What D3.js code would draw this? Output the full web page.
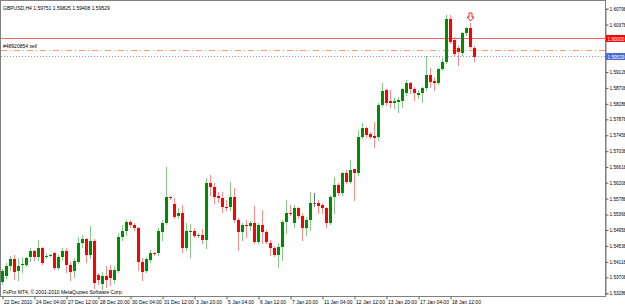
<!DOCTYPE html>
<html><head><meta charset="utf-8">
<script src="https://cdnjs.cloudflare.com/ajax/libs/d3/7.8.5/d3.min.js"></script>
<style>html,body{margin:0;padding:0;background:#fff;overflow:hidden}svg{display:block}</style>
</head><body>
<script>
const symbolTitle = "GBPUSD,H4  1.59751 1.59825 1.59408 1.59529";
const copyright = "FxPro MT4, \u00a9 2001-2010 MetaQuotes Software Corp.";
const dateLabels = ["22 Dec 2010","24 Dec 04:00","27 Dec 12:00","28 Dec 20:00","30 Dec 04:00","31 Dec 12:00","3 Jan 20:00","5 Jan 04:00","6 Jan 12:00","7 Jan 20:00","11 Jan 04:00","12 Jan 12:00","13 Jan 20:00","17 Jan 04:00","18 Jan 12:00"];
const dateLabelBars = [0,8,16,24,32,40,48,56,64,72,80,88,96,104,112];
const priceTicks = [1.60798,1.60378,1.59958,1.59538,1.59128,1.58708,1.58288,1.57878,1.57458,1.57038,1.56618,1.56208,1.55788,1.55368,1.54958,1.54538,1.54118,1.53708,1.53288];

const open = [1.53583,1.53742,1.54006,1.54190,1.53874,1.54032,1.54032,1.54243,1.54402,1.54243,
1.54481,1.54243,1.54296,1.54349,1.53953,1.54243,1.54402,1.54032,1.53874,1.54111,
1.54613,1.54718,1.54296,1.54666,1.53768,1.53530,1.53742,1.53900,1.53636,1.53874,
1.54771,1.54930,1.55167,1.55088,1.55009,1.54111,1.53874,1.54164,1.54349,1.54349,
1.54903,1.55141,1.55827,1.55642,1.55326,1.55405,1.54481,1.54903,1.54930,1.54798,
1.54824,1.54692,1.56197,1.56091,1.55854,1.55801,1.55563,1.55563,1.55827,1.55220,
1.54903,1.55088,1.55062,1.55141,1.54639,1.55088,1.54903,1.54613,1.54481,1.54296,
1.54507,1.55167,1.55405,1.55141,1.55537,1.55326,1.55009,1.55220,1.55669,1.55669,
1.55616,1.55537,1.55141,1.55827,1.56144,1.55933,1.56461,1.56223,1.56566,1.56461,
1.57411,1.57649,1.57490,1.57438,1.57411,1.58256,1.58652,1.58362,1.58309,1.58335,
1.58362,1.58573,1.58837,1.58678,1.58520,1.58573,1.58705,1.59048,1.58890,1.58837,
1.59206,1.59391,1.60526,1.59972,1.59761,1.59629,1.60157,1.60289,1.59751];
const high = [1.53926,1.54085,1.54270,1.54296,1.54217,1.54243,1.54243,1.54481,1.54428,1.54692,
1.54507,1.54349,1.54322,1.54375,1.54296,1.54481,1.54481,1.54111,1.54217,1.54771,
1.54824,1.54745,1.55062,1.54718,1.53821,1.53847,1.54006,1.54032,1.54006,1.54877,
1.55088,1.55220,1.55220,1.55141,1.55035,1.54217,1.54243,1.54428,1.54375,1.55009,
1.55220,1.56619,1.55854,1.55801,1.55537,1.55616,1.55141,1.55114,1.55009,1.54877,
1.54982,1.56329,1.56408,1.56197,1.55959,1.55959,1.55748,1.56223,1.56065,1.55273,
1.55141,1.55220,1.55194,1.55590,1.55141,1.55484,1.54956,1.54692,1.54534,1.54613,
1.55220,1.55748,1.55616,1.55616,1.55563,1.55405,1.55299,1.55959,1.55933,1.55748,
1.55669,1.55563,1.55880,1.56355,1.56197,1.56487,1.56540,1.56804,1.56566,1.57596,
1.57781,1.57675,1.57543,1.57807,1.58309,1.58837,1.58678,1.58652,1.58441,1.58467,
1.58705,1.58916,1.58863,1.58731,1.58652,1.58731,1.59550,1.59233,1.58995,1.59233,
1.59497,1.60632,1.60632,1.60051,1.59840,1.60183,1.60315,1.60421,1.59825];
const low = [1.53530,1.53689,1.53900,1.53662,1.53636,1.53847,1.54006,1.54138,1.54164,1.54164,
1.54058,1.54217,1.54270,1.53926,1.53926,1.54164,1.53847,1.53636,1.53715,1.54085,
1.54507,1.54111,1.54217,1.53425,1.53530,1.53398,1.53451,1.53504,1.53557,1.53847,
1.54692,1.54824,1.55035,1.54956,1.53900,1.53636,1.53847,1.54111,1.54296,1.54296,
1.54692,1.55114,1.55775,1.55273,1.55273,1.54375,1.54428,1.54243,1.54771,1.54771,
1.54613,1.54481,1.55880,1.55669,1.55695,1.55431,1.55484,1.55484,1.55167,1.54428,
1.54692,1.54771,1.54956,1.54613,1.54613,1.54613,1.54613,1.54296,1.54270,1.53979,
1.54164,1.54877,1.55352,1.55035,1.55273,1.54692,1.54824,1.54956,1.55590,1.55405,
1.55405,1.55035,1.55114,1.55405,1.55880,1.55880,1.56197,1.56197,1.55748,1.56408,
1.57385,1.57411,1.57385,1.57147,1.57332,1.58230,1.58256,1.58203,1.58177,1.58071,
1.58203,1.58520,1.58573,1.58388,1.58441,1.58335,1.58652,1.58731,1.58652,1.58810,
1.59180,1.59365,1.59893,1.59576,1.59312,1.59576,1.60104,1.59761,1.59408];
const close = [1.53874,1.54006,1.54190,1.53847,1.54006,1.54058,1.54217,1.54402,1.54243,1.54481,
1.54085,1.54270,1.54300,1.53953,1.54243,1.54402,1.54032,1.53847,1.54138,1.54613,
1.54718,1.54296,1.54666,1.53557,1.53636,1.53742,1.53636,1.53689,1.53900,1.54771,
1.54930,1.55167,1.55088,1.55009,1.54111,1.53847,1.54190,1.54349,1.54322,1.54930,
1.55141,1.55827,1.55801,1.55299,1.55405,1.54481,1.54930,1.54930,1.54798,1.54824,
1.54692,1.56197,1.56091,1.55827,1.55801,1.55563,1.55537,1.55827,1.55220,1.54903,
1.55088,1.55080,1.55141,1.54639,1.55088,1.54903,1.54639,1.54481,1.54296,1.54507,
1.55167,1.55405,1.55392,1.55537,1.55326,1.55009,1.55220,1.55669,1.55669,1.55590,
1.55537,1.55141,1.55827,1.56144,1.55933,1.56461,1.56223,1.56540,1.56461,1.57411,
1.57649,1.57464,1.57411,1.57385,1.58256,1.58626,1.58309,1.58309,1.58362,1.58388,
1.58678,1.58837,1.58678,1.58573,1.58573,1.58705,1.59048,1.58863,1.58837,1.59206,
1.59391,1.60526,1.59919,1.59602,1.59655,1.60157,1.60289,1.59787,1.59529];

const stopLevel = 1.60000, stopLabel = "1.60000";
const orderLevel = 1.59716, orderText = "#48920854 sell";
const bidLevel = 1.59529, bidLabel = "1.59529";
const arrowBar = 117;

const W = 625, H = 306;
const FONT = "'Liberation Sans', Arial, sans-serif";
const svg = d3.select("body").append("svg").attr("width", W).attr("height", H);
svg.append("rect").attr("width", W).attr("height", H).attr("fill", "#fff");

const x = d3.scaleLinear().domain([0, 151]).range([2, 606]);
const y = d3.scaleLinear().domain([1.53288, 1.60798]).range([293.3, 8.7]);

const bars = d3.range(open.length).map(i => ({i, o: open[i], h: high[i], l: low[i], c: close[i]}));

// frame
svg.append("rect").attr("x", 0.5).attr("y", 0.5).attr("width", 605).attr("height", 296)
  .attr("fill", "none").attr("stroke", "#808080");

const plot = svg.append("g");
// level lines
const yStop = Math.round(y(stopLevel)) - 0.5;
plot.append("line").attr("x1", 1).attr("x2", 605).attr("y1", yStop).attr("y2", yStop)
  .attr("stroke", "#ff6464").attr("stroke-width", 1).attr("shape-rendering", "crispEdges");
const yOrd = Math.round(y(orderLevel)) + 0.5;
plot.append("line").attr("x1", 1).attr("x2", 605).attr("y1", yOrd).attr("y2", yOrd)
  .attr("stroke", "#ff9c6c").attr("stroke-width", 1).attr("stroke-dasharray", "6,3,1,3").attr("shape-rendering", "crispEdges");
const yBid = Math.round(y(bidLevel)) - 0.5;
plot.append("line").attr("x1", 1).attr("x2", 605).attr("y1", yBid).attr("y2", yBid)
  .attr("stroke", "#8c8cff").attr("stroke-width", 1).attr("stroke-dasharray", "1,2").attr("shape-rendering", "crispEdges");

const col = d => d.c > d.o ? "#008c00" : d.c < d.o ? "#ff0000" : "#707070";
const wcol = d => d.c > d.o ? "#88c888" : d.c < d.o ? "#ff8c8c" : "#707070";

const g = plot.selectAll("g.bar").data(bars).join("g").attr("class", "bar");
g.append("line")
  .attr("x1", d => Math.round(x(d.i)) + 0.5).attr("x2", d => Math.round(x(d.i)) + 0.5)
  .attr("y1", d => Math.round(y(d.h))).attr("y2", d => Math.round(y(d.l)) + 1)
  .attr("stroke", wcol).attr("stroke-width", 1);
g.append("rect")
  .attr("x", d => Math.round(x(d.i)) - 1).attr("width", 3)
  .attr("y", d => Math.round(y(Math.max(d.o, d.c))))
  .attr("height", d => Math.max(1, Math.round(y(Math.min(d.o, d.c))) - Math.round(y(Math.max(d.o, d.c)))))
  .attr("fill", col);

// arrow marker above bar
const ab = bars[arrowBar];
const ax = Math.round(x(ab.i)) + 0.5, ay = Math.round(y(ab.h)) - 2;
plot.append("path")
  .attr("d", `M${ax-1.5},${ay-8} L${ax+1.5},${ay-8} L${ax+1.5},${ay-4} L${ax+3.5},${ay-4} L${ax},${ay} L${ax-3.5},${ay-4} L${ax-1.5},${ay-4} Z`)
  .attr("fill", "#fff").attr("stroke", "#ff2020").attr("stroke-width", 1);

// texts in plot
plot.append("text").attr("x", 3).attr("y", 10).text(symbolTitle)
  .attr("font-family", FONT).attr("font-size", 5).attr("fill", "#000");
plot.append("text").attr("x", 3).attr("y", Math.round(y(orderLevel)) - 2).text(orderText)
  .attr("font-family", FONT).attr("font-size", 5).attr("fill", "#000");
plot.append("text").attr("x", 3).attr("y", 294).text(copyright)
  .attr("font-family", FONT).attr("font-size", 5).attr("fill", "#000");

// right axis
const covered = v => Math.abs(y(v) - y(stopLevel)) < 5 || Math.abs(y(v) - y(bidLevel)) < 5;
const yAxis = d3.axisRight(y).tickValues(priceTicks).tickSize(3).tickPadding(1)
  .tickFormat(d => covered(d) ? "" : d3.format(".5f")(d));
const ya = svg.append("g").attr("transform", "translate(605.5,0)").call(yAxis);
ya.select(".domain").attr("stroke", "#808080");
ya.selectAll(".tick line").attr("stroke", "#606060");
ya.selectAll(".tick text").attr("font-family", FONT).attr("font-size", 4.7).attr("fill", "#000");

// price labels on axis
function axisBox(level, text, fill) {
  const yy = Math.round(y(level));
  svg.append("rect").attr("x", 606).attr("y", yy - 4).attr("width", 19).attr("height", 7).attr("fill", fill);
  svg.append("text").attr("x", 607.5).attr("y", yy + 1.8).text(text)
    .attr("font-family", FONT).attr("font-size", 4.7).attr("fill", "#fff");
}
axisBox(stopLevel, stopLabel, "#ff0000");
axisBox(bidLevel, bidLabel, "#4a6ad0");

// bottom axis
const xAxis = d3.axisBottom(x).tickValues(dateLabelBars).tickSize(3).tickFormat((d, k) => dateLabels[k]);
const xa = svg.append("g").attr("transform", "translate(0.5,296.5)").call(xAxis);
xa.select(".domain").remove();
xa.selectAll(".tick line").attr("stroke", "#606060");
xa.selectAll(".tick text").attr("text-anchor", "start").attr("dx", 1).attr("y", 4)
  .attr("font-family", FONT).attr("font-size", 5).attr("fill", "#000");
</script>
</body></html>
